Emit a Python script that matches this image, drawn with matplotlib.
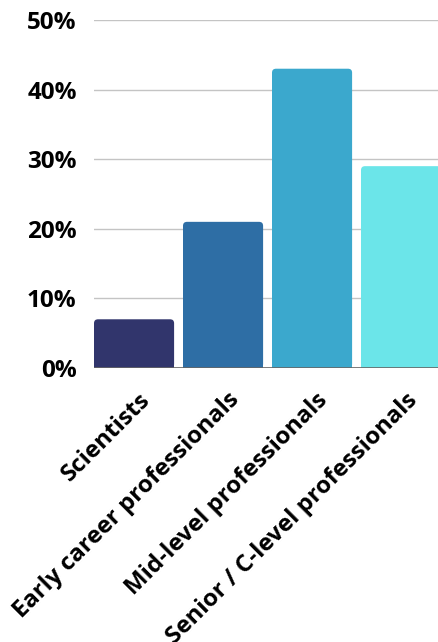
import matplotlib
matplotlib.use("Agg")
import matplotlib.pyplot as plt
from matplotlib.patches import FancyBboxPatch, Rectangle

# 数据
categories = ["Scientists", "Early career professionals", "Mid-level professionals",
              "Senior / C-level professionals"]
shares = [7, 21, 43, 29]
colors = ["#31356c", "#2e6ea5", "#3ba8cd", "#6be5e9"]
yticks = [0, 10, 20, 30, 40, 50]

plt.rcParams['font.family'] = ['Open Sans', 'DejaVu Sans']

fig = plt.figure(figsize=(4.38, 6.42), dpi=100)
ax = fig.add_axes([94 / 438, 274 / 642, 356 / 438, 348 / 642])

w = 0.9
ax.set_xlim(-0.45, 3.55)
ax.set_ylim(0, 50)

# 圆角柱子
px_x = 356 / 4.0      # 每单位x的像素
px_y = 348 / 50.0     # 每单位y的像素
r = 4 / px_x
for i, (v, c) in enumerate(zip(shares, colors)):
    p = FancyBboxPatch((i - w / 2, 0), w, v,
                       boxstyle=f"round,pad=0,rounding_size={r}",
                       mutation_aspect=px_x / px_y,
                       fc=c, ec="none", zorder=3)
    ax.add_patch(p)
    ax.add_patch(Rectangle((i - w / 2, 0), w, v / 2, fc=c, ec="none", zorder=3))

ax.set_yticks(yticks)
ax.set_yticklabels([f"{t}%" for t in yticks])
ax.grid(True, axis='y', color="#c4c4c4", linewidth=1, zorder=0)
ax.axhline(0, color="#666666", linewidth=1.2, zorder=4)

# 刻度位置稍微右移，让斜标签对齐
shift = 4 / px_x
ax.set_xticks([i + shift for i in range(len(categories))])
ax.set_xticklabels(categories, rotation=45, ha='right', rotation_mode='anchor')

for lab in ax.get_yticklabels():
    lab.set_fontweight('bold')
    lab.set_fontsize(17.5)
    lab.set_color('black')

for lab in ax.get_xticklabels():
    lab.set_fontweight('bold')
    lab.set_fontsize(17.3)
    lab.set_color('black')

ax.tick_params(axis='both', length=0)
ax.tick_params(axis='y', pad=12.5)
ax.tick_params(axis='x', pad=14.5)
for s in ax.spines.values():
    s.set_visible(False)

fig.savefig("out.png", dpi=100)
